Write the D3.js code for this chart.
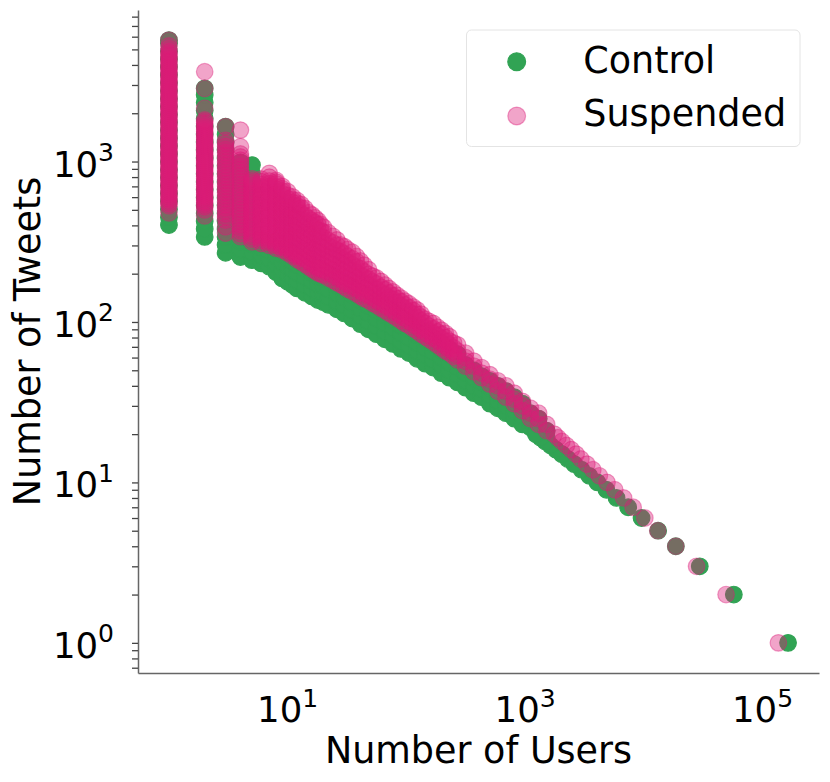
<!DOCTYPE html>
<html>
<head>
<meta charset="utf-8">
<script src="https://cdn.jsdelivr.net/npm/d3@7"></script>
<style>
  body { margin: 0; background: #fff; }
  text { font-family: "DejaVu Sans", sans-serif; fill: #000; }
</style>
</head>
<body>
<div id="chart"></div>
<script>
// Number of users (x) having a given number of tweets (y), log-log

const seriesNames = ["Control", "Suspended"];
const seriesColors = ["#31a354", "#dd1c77"];

// columns: [users, [tweet counts at that user count]]
const controlColumns = [
  [1, [402, 450, 504, 565, 633, 709, 794, 889, 996, 1115, 1249, 1399, 1567, 1755, 1966, 2202, 2466, 2762, 3093, 3465, 3880, 4346, 4868, 5452, 5710]],
  [2, [339, 380, 425, 476, 533, 597, 669, 749, 839, 940, 1053, 1179, 1321, 1479, 1657, 1856, 2078, 2330, 2600, 2860]],
  [3, [270, 302, 339, 379, 425, 476, 533, 597, 669, 749, 839, 940, 1053, 1179, 1321, 1479, 1650]],
  [4, [254, 284, 318, 357, 399, 447, 501, 561, 628, 704, 788, 883, 989]],
  [5, [243, 272, 305, 341, 382, 428, 480, 537, 602, 674, 755, 845, 950]],
  [6, [232, 260, 291, 326]],
  [7, [221, 248, 277, 310]],
  [8, [204, 228, 256, 286, 317]],
  [9, [187, 209, 235, 263, 295]],
  [10, [178, 199, 223, 250, 280]],
  [11, [170, 190, 213, 239, 268]],
  [12, [162, 181, 203, 227, 254]],
  [14, [152, 170, 191, 214, 240]],
  [16, [144, 161, 180, 202, 226]],
  [18, [137, 153, 172, 192, 215]],
  [20, [133, 149, 167, 187, 209]],
  [22, [128, 143, 160, 180, 201]],
  [26, [120, 134, 150, 168, 188]],
  [30, [113, 127, 142, 159, 178]],
  [35, [105, 118, 132, 148, 166]],
  [41, [97, 109, 122, 136, 152]],
  [48, [90, 101, 113, 126, 141]],
  [56, [84, 94, 105, 118, 132]],
  [66, [78, 87, 98, 110, 123]],
  [77, [73, 82, 92, 103, 115]],
  [90, [68, 76, 85, 95, 106]],
  [105, [64, 71, 80, 90, 100]],
  [123, [59, 66, 74, 83, 93]],
  [144, [55, 62, 69, 77, 86]],
  [168, [52, 58, 65, 73, 80]],
  [197, [48, 54, 60, 67, 74]],
  [230, [45, 50, 56, 63, 68]],
  [270, [42, 47, 52, 58, 63]],
  [315, [39, 43, 48, 54]],
  [370, [36, 40, 45, 50]],
  [430, [34, 38, 42, 46]],
  [505, [31, 35, 39, 43]],
  [590, [29, 32, 36, 40]],
  [690, [27, 30, 34, 37]],
  [810, [25, 28, 31, 34]],
  [950, [23, 26, 29, 31]],
  [1110, [22, 24, 27]],
  [1300, [20, 22, 25]],
  [1520, [19, 21]]
];

const suspendedColumns = [
  [1, [478, 530, 545, 562, 579, 596, 613, 631, 650, 669, 689, 709, 730, 752, 774, 797, 821, 845, 870, 895, 922, 949, 977, 1006, 1036, 1066, 1098, 1130, 1164, 1198, 1234, 1270, 1308, 1346, 1386, 1427, 1469, 1512, 1557, 1603, 1651, 1699, 1750, 1801, 1855, 1909, 1966, 2024, 2084, 2145, 2209, 2274, 2342, 2410, 2482, 2555, 2631, 2708, 2789, 2871, 2956, 3043, 3134, 3226, 3322, 3419, 3521, 3624, 3732, 3842, 3956, 4072, 4194, 4317, 4446, 4576, 4713, 4850, 5050, 5250, 5710]],
  [2, [458, 499, 522, 537, 553, 569, 586, 604, 622, 640, 659, 678, 698, 719, 740, 762, 785, 808, 832, 856, 882, 908, 935, 962, 991, 1020, 1050, 1081, 1113, 1146, 1180, 1215, 1251, 1288, 1326, 1365, 1405, 1447, 1489, 1533, 1578, 1625, 1673, 1723, 1774, 1815, 2150, 2850, 3630]],
  [3, [358, 392, 432, 451, 472, 493, 515, 538, 562, 588, 614, 642, 671, 701, 732, 765, 800, 836, 873, 913, 954, 997, 1041, 1088, 1137, 1188, 1242, 1298, 1356, 1650]],
  [4, [340, 355, 371, 388, 405, 424, 443, 463, 483, 505, 528, 552, 576, 602, 630, 658, 687, 718, 751, 784, 820, 857, 895, 935, 977, 1021, 1067, 1115, 1236, 1570]],
  [5, [316, 328, 341, 355, 369, 383, 398, 414, 430, 447, 464, 482, 501, 521, 541, 563, 585, 608, 631, 656, 682, 709, 737, 758, 780]],
  [6, [309, 321, 334, 347, 360, 374, 389, 404, 420, 437, 454, 472, 490, 510, 530, 551, 572, 595, 618, 642, 667, 694, 721, 749, 778]],
  [7, [300, 312, 324, 337, 350, 364, 378, 393, 408, 424, 441, 458, 476, 495, 514, 534, 555, 577, 600, 624, 648, 674, 700, 728, 756, 799, 844]],
  [8, [288, 299, 311, 323, 336, 349, 363, 377, 392, 407, 423, 440, 457, 475, 494, 513, 533, 554, 576, 599, 622, 647, 672, 698, 725, 744, 764]],
  [9, [281, 292, 303, 315, 328, 341, 354, 368, 382, 397, 413, 429, 446, 464, 482, 501, 520, 541, 562, 584, 607, 631, 655, 677, 700]],
  [10, [269, 280, 291, 302, 314, 326, 339, 352, 366, 380, 395, 411, 427, 444, 461, 479, 498, 518, 538, 561, 585, 616, 649]],
  [11, [257, 267, 278, 289, 300, 312, 324, 337, 350, 364, 378, 393, 408, 424, 441, 458, 476, 495, 514, 534, 555, 578, 602]],
  [12, [245, 255, 265, 275, 286, 297, 309, 321, 333, 346, 360, 374, 389, 404, 420, 436, 453, 471, 490, 509, 529, 550, 572]],
  [13, [237, 256, 277, 299, 323, 349, 377, 407, 440, 475, 513, 540]],
  [14, [229, 248, 268, 290, 313, 338, 365, 394, 426, 460, 510]],
  [15, [221, 239, 258, 279, 301, 325, 351, 379, 409, 442, 480]],
  [16, [214, 231, 250, 270, 291, 315, 340, 367, 396, 428, 465]],
  [17, [208, 225, 243, 262, 283, 306, 330, 357, 385, 416, 446]],
  [18, [202, 218, 236, 254, 275, 297, 321, 346, 374, 404, 428]],
  [19, [199, 215, 232, 251, 271, 292, 316, 341, 370, 405]],
  [20, [196, 212, 229, 247, 267, 288, 311, 336, 363, 390]],
  [22, [188, 203, 219, 237, 256, 276, 298, 322, 360]],
  [24, [182, 197, 212, 229, 248, 268, 289, 312, 342]],
  [26, [176, 190, 205, 222, 240, 259, 280, 302, 325]],
  [28, [171, 185, 199, 215, 233, 252, 274, 302]],
  [30, [166, 179, 194, 209, 226, 244, 266, 295]],
  [32, [160, 173, 187, 202, 218, 236, 256, 283]],
  [35, [155, 167, 181, 195, 211, 228, 248, 272]],
  [38, [150, 162, 175, 189, 204, 220, 238, 256]],
  [41, [145, 157, 169, 183, 197, 215, 240]],
  [44, [140, 151, 163, 176, 190, 206, 226]],
  [48, [136, 147, 159, 171, 185, 198, 212]],
  [52, [131, 142, 153, 165, 178, 193]],
  [56, [127, 137, 148, 160, 173, 188]],
  [61, [122, 132, 142, 153, 165, 179]],
  [66, [118, 127, 137, 148, 159, 170]],
  [71, [114, 123, 132, 142, 152, 162]],
  [77, [110, 119, 128, 138, 146, 154]],
  [83, [106, 114, 123, 132, 140, 147]],
  [90, [102, 110, 118, 126, 134, 141]],
  [97, [98, 106, 114, 121, 128, 135]],
  [105, [95, 102, 109, 116, 123, 130]],
  [114, [91, 98, 105, 112, 118, 124]],
  [123, [88, 94, 100, 106, 112, 119]],
  [133, [84, 90, 96, 102, 107, 112]],
  [144, [81, 86, 92, 98, 104]],
  [155, [78, 83, 88, 94, 101]],
  [168, [75, 80, 85, 91, 98]],
  [182, [72, 77, 82, 87, 93]],
  [197, [69, 74, 79, 84, 89]],
  [213, [66, 71, 76, 80, 85]],
  [230, [64, 68, 72, 76, 81]],
  [250, [61, 65, 69, 74]],
  [270, [58, 62, 66, 72]],
  [315, [53, 57, 60, 64]],
  [370, [49, 53, 57]],
  [430, [45, 48, 52]],
  [505, [41, 44, 47]],
  [590, [37, 40, 43]],
  [690, [34, 37, 40]],
  [810, [31, 33, 36]],
  [950, [28, 30, 32]],
  [1110, [25, 27, 29]],
  [1300, [23, 25, 27]],
  [1520, [21, 23]]
];

// tail: [users, tweets] one point per tweet count
const controlTail = [
  [164000, 1], [57300, 2], [29600, 3], [18600, 4], [13200, 5], [9570, 6], [7380, 7],
  [5890, 8], [4840, 9], [4070, 10], [3470, 11], [2990, 12], [2600, 13], [2290, 14],
  [2040, 15], [1820, 16], [1640, 17], [1480, 18], [1350, 19], [1230, 20]
];
const suspendedTail = [
  [136000, 1], [49300, 2], [27800, 3], [18600, 4], [13100, 5], [10200, 6], [8130, 7],
  [6760, 8], [5690, 9], [4900, 10], [4220, 11], [3720, 12], [3310, 13], [2950, 14],
  [2690, 15], [2450, 16], [2230, 17], [2040, 18], [1890, 19], [1760, 20]
];

const xTickValues = [10, 1000, 100000];
const yTickValues = [1, 10, 100, 1000];

var width = 830;
var height = 782;
var plotLeft = 138, plotRight = 819, plotTop = 10, plotBottom = 673;
var R = 8.3;   // marker radius

function toPoints(columns, tail) {
  var pts = [];
  columns.forEach(function(c) {
    c[1].forEach(function(v) { pts.push({x: c[0], y: v}); });
  });
  tail.forEach(function(p) { pts.push({x: p[0], y: p[1]}); });
  return pts;
}

var control = toPoints(controlColumns, controlTail);
var suspended = toPoints(suspendedColumns, suspendedTail);
var all = control.concat(suspended);

// log extent with 5% margin on each side
function paddedLog(values) {
  var lo = Math.log10(d3.min(values)), hi = Math.log10(d3.max(values));
  var pad = (hi - lo) * 0.05;
  return [Math.pow(10, lo - pad), Math.pow(10, hi + pad)];
}

var x = d3.scaleLog().domain(paddedLog(all.map(d => d.x))).range([plotLeft, plotRight]);
var y = d3.scaleLog().domain(paddedLog(all.map(d => d.y))).range([plotBottom, plotTop]);

var svg = d3.select("#chart")
  .append("svg")
  .attr("width", width)
  .attr("height", height);

// points, control first then suspended on top
svg.append("g")
  .selectAll("circle")
  .data(control)
  .enter()
  .append("circle")
  .attr("cx", d => x(d.x))
  .attr("cy", d => y(d.y))
  .attr("r", R)
  .attr("fill", seriesColors[0])
  .attr("stroke", seriesColors[0])
  .attr("stroke-width", 1.2);

svg.append("g")
  .selectAll("circle")
  .data(suspended)
  .enter()
  .append("circle")
  .attr("cx", d => x(d.x))
  .attr("cy", d => y(d.y))
  .attr("r", R)
  .attr("fill", seriesColors[1])
  .attr("fill-opacity", 0.4)
  .attr("stroke", seriesColors[1])
  .attr("stroke-opacity", 0.4)
  .attr("stroke-width", 1.2);

// y axis: majors + minors, labels drawn by hand for superscripts
var yAxis = svg.append("g")
  .attr("transform", "translate(" + plotLeft + ",0)")
  .call(d3.axisLeft(y).tickValues(y.ticks()).tickSize(6).tickSizeOuter(0).tickFormat(""));
yAxis.select(".domain").attr("stroke", "#666").attr("stroke-width", 1.5);
yAxis.selectAll(".tick line").attr("stroke", "#444").attr("stroke-width", 1.3);

var yLab = svg.append("g").selectAll("text")
  .data(yTickValues)
  .enter()
  .append("text")
  .attr("x", 114)
  .attr("y", d => y(d) + 15)
  .attr("text-anchor", "end")
  .style("font-size", "35.5px");
yLab.append("tspan").text("10");
yLab.append("tspan").attr("dy", -15.5).style("font-size", "25px").text(d => Math.round(Math.log10(d)));

// x axis: spine only, no tick marks
var xAxis = svg.append("g")
  .attr("transform", "translate(0," + plotBottom + ")")
  .call(d3.axisBottom(x).tickValues([]).tickSizeOuter(0));
xAxis.select(".domain").attr("stroke", "#666").attr("stroke-width", 1.5);

var xLab = svg.append("g").selectAll("text")
  .data(xTickValues)
  .enter()
  .append("text")
  .attr("x", d => x(d))
  .attr("y", plotBottom + 49)
  .attr("text-anchor", "middle")
  .style("font-size", "35.5px");
xLab.append("tspan").text("10");
xLab.append("tspan").attr("dy", -15.5).style("font-size", "25px").text(d => Math.round(Math.log10(d)));

// axis titles
svg.append("text")
  .attr("x", (plotLeft + plotRight) / 2)
  .attr("y", 763)
  .attr("text-anchor", "middle")
  .style("font-size", "36.5px")
  .text("Number of Users");

svg.append("text")
  .attr("transform", "translate(40," + ((plotTop + plotBottom) / 2) + ") rotate(-90)")
  .attr("text-anchor", "middle")
  .style("font-size", "36.5px")
  .text("Number of Tweets");

// legend
var legend = svg.append("g");
legend.append("rect")
  .attr("x", 466.5).attr("y", 30)
  .attr("width", 333.5).attr("height", 116.5)
  .attr("rx", 5)
  .attr("fill", "#fff").attr("fill-opacity", 0.8)
  .attr("stroke", "#e4e4e4").attr("stroke-width", 1);

seriesNames.forEach(function(name, i) {
  var cy = i == 0 ? 61.7 : 116;
  legend.append("circle")
    .attr("cx", 516.7).attr("cy", cy).attr("r", R + 0.6)
    .attr("fill", seriesColors[i])
    .attr("fill-opacity", i == 0 ? 1 : 0.4)
    .attr("stroke", seriesColors[i])
    .attr("stroke-opacity", i == 0 ? 1 : 0.4)
    .attr("stroke-width", 1.2);
  legend.append("text")
    .attr("x", 583.3)
    .attr("y", i == 0 ? 72.7 : 126)
    .style("font-size", "36.5px")
    .text(name);
});
</script>
</body>
</html>
